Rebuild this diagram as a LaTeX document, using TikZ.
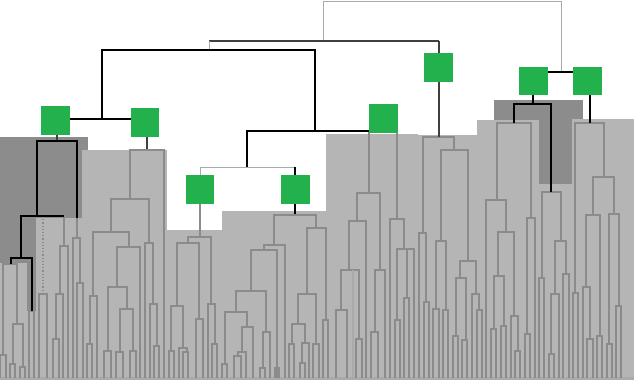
\documentclass[tikz,border=0pt]{standalone}
\usepackage{tikz}
\definecolor{grn}{HTML}{22B14C}
\definecolor{lgray}{HTML}{B5B5B5}
\definecolor{dgray}{HTML}{8C8C8C}
\definecolor{tgray}{HTML}{8B8B8B}
\definecolor{rgray}{HTML}{AAAAAA}
\newcommand\dU[5]{\draw[tl] (#1,#4) |- (#2,#3) -- (#2,#5);}
\tikzset{
  tl/.style={draw=tgray,line width=1.2pt},
  bl/.style={draw=black,line width=1.2pt},
  dl/.style={draw=black!75,line width=1.2pt},
  rl/.style={draw=rgray,line width=1pt},
  sq/.style={fill=grn,draw=none,minimum size=28.5pt,inner sep=0pt}
}
\begin{document}
\begin{tikzpicture}[x=1pt,y=-1pt]
\useasboundingbox (0,0) rectangle (634,380);
% dark regions
\fill[dgray] (0,137) rectangle (88,263);
\fill[dgray] (27,263) rectangle (36,311);
\fill[dgray] (494,100) rectangle (583,184);
% light regions
\fill[lgray] (0,263) rectangle (27,380);
\fill[lgray] (27,311) rectangle (36,380);
\fill[lgray] (36,218) rectangle (82,380);
\fill[lgray] (82,150) rectangle (167,380);
\fill[lgray] (167,230) rectangle (222,380);
\fill[lgray] (222,211) rectangle (326,380);
\fill[lgray] (326,134) rectangle (418,380);
\fill[lgray] (418,135) rectangle (477,380);
\fill[lgray] (477,120) rectangle (539,380);
\fill[lgray] (539,184) rectangle (572,380);
\fill[lgray] (572,119) rectangle (634,380);
\fill[rgray] (0,377) rectangle (634,380);
% ---------- left dark subtree (gray parts)
\draw[tl] (64,216) -- (64,246);
\dU{60}{68}{246}{294}{378}
\dU{56}{63}{294}{339}{378}
\dU{53}{59}{339}{378}{378}
\draw[tl] (77,218) -- (77,238);
\dU{73}{80}{238}{378}{283}
\dU{77}{83}{283}{378}{378}
\draw[tl,dotted] (43,216) -- (43,294);
\dU{39}{47}{294}{378}{378}
\dU{3}{17}{264}{355}{324}
\dU{0}{6}{355}{378}{378}
\dU{13}{23}{324}{364}{367}
\dU{10}{15}{364}{378}{378}
\dU{20}{25}{367}{378}{378}
\dU{29}{34}{311}{378}{378}
% ---------- green 2 subtree
\draw[dl] (147,137) -- (147,150);
\dU{130}{164}{150}{199}{378}
\dU{111}{149}{199}{232}{243}
\dU{93}{129}{232}{296}{247}
\dU{117}{140}{247}{287}{378}
\dU{108}{127}{287}{351}{309}
\dU{120}{133}{309}{352}{351}
\dU{104}{111}{351}{378}{378}
\dU{116}{123}{352}{378}{378}
\dU{130}{136}{351}{378}{378}
\dU{90}{97}{296}{344}{378}
\dU{87}{92}{344}{378}{378}
\dU{145}{153}{243}{378}{304}
\dU{150}{157}{304}{378}{346}
\dU{154}{159}{346}{378}{378}
% ---------- green 5 subtree
\draw[tl] (200,204) -- (200,237);
\dU{188}{211}{237}{243}{304}
\dU{177}{199}{243}{306}{319}
\dU{171}{183}{306}{351}{348}
\dU{169}{174}{351}{378}{378}
\dU{179}{187}{348}{378}{352}
\dU{183}{188}{352}{378}{378}
\dU{196}{203}{319}{378}{378}
\dU{208}{215}{304}{378}{344}
\dU{212}{217}{344}{378}{378}
% ---------- green 6 subtree
\draw[bl] (295,204) -- (295,215);
\dU{274}{316}{215}{245}{228}
\dU{264}{285}{245}{250}{378}
\dU{251}{277}{250}{291}{378}
\dU{236}{266}{291}{312}{332}
\dU{225}{247}{312}{364}{327}
\dU{222}{227}{364}{378}{378}
\dU{242}{253}{327}{352}{378}
\dU{238}{246}{352}{356}{378}
\dU{234}{241}{356}{378}{378}
\dU{263}{270}{332}{368}{378}
\dU{260}{265}{368}{378}{378}
\dU{275}{279}{368}{378}{378}
\dU{307}{326}{228}{294}{320}
\dU{298}{316}{294}{324}{344}
\dU{292}{305}{324}{344}{343}
\dU{289}{294}{344}{378}{378}
\dU{302}{309}{343}{363}{378}
\dU{300}{305}{363}{378}{378}
\dU{313}{319}{344}{378}{378}
\dU{323}{328}{320}{378}{378}
% ---------- green 4 subtree
\dU{369}{397}{131}{193}{219}
\dU{357}{380}{193}{221}{270}
\dU{349}{366}{221}{270}{378}
\dU{341}{359}{270}{310}{339}
\dU{336}{347}{310}{378}{378}
\dU{356}{362}{339}{378}{378}
\draw[tl,draw=rgray] (353,270) -- (353,378);
\dU{375}{385}{270}{332}{378}
\dU{371}{378}{332}{378}{378}
\dU{390}{404}{219}{378}{249}
\dU{397}{414}{249}{320}{378}
\dU{395}{400}{320}{378}{378}
\draw[tl] (407,249) -- (407,298);
\dU{404}{409}{298}{378}{378}
% ---------- green 3 subtree
\dU{423}{454}{137}{233}{150}
\dU{441}{468}{150}{241}{261}
\dU{419}{426}{233}{378}{302}
\dU{424}{429}{302}{378}{378}
\dU{436}{446}{241}{309}{310}
\dU{433}{439}{309}{378}{378}
\dU{443}{448}{310}{378}{378}
\dU{460}{476}{261}{278}{294}
\dU{456}{466}{278}{336}{340}
\dU{453}{458}{336}{378}{378}
\dU{462}{467}{340}{378}{378}
\dU{472}{479}{294}{378}{310}
\dU{477}{482}{310}{378}{378}
% ---------- green 7 subtree
\dU{497}{531}{123}{200}{218}
\dU{486}{506}{200}{378}{232}
\dU{498}{514}{232}{276}{316}
\dU{494}{504}{276}{329}{326}
\dU{491}{496}{329}{378}{378}
\dU{501}{506}{326}{378}{378}
\dU{511}{518}{316}{378}{351}
\dU{515}{520}{351}{378}{378}
\dU{527}{535}{218}{334}{378}
\dU{525}{530}{334}{378}{378}
\dU{542}{561}{192}{278}{241}
\dU{539}{544}{278}{378}{378}
\dU{555}{566}{241}{294}{274}
\dU{551}{559}{294}{354}{378}
\dU{549}{554}{354}{378}{378}
\dU{563}{569}{274}{378}{378}
% ---------- green 8 subtree
\dU{575}{604}{123}{293}{177}
\dU{573}{578}{293}{378}{378}
\dU{593}{614}{177}{215}{214}
\dU{586}{600}{215}{287}{336}
\dU{583}{590}{287}{378}{339}
\dU{587}{593}{339}{378}{378}
\dU{597}{602}{336}{378}{378}
\dU{609}{619}{214}{344}{306}
\dU{607}{612}{344}{378}{378}
\dU{616}{621}{306}{378}{378}
% ---------- black / top structure
\draw[dl] (57,135) -- (57,141);
\draw[bl] (37,216) -- (37,141) -- (77,141) -- (77,218);
\draw[bl] (21,258) -- (21,216) -- (64,216);
\draw[bl] (11,264) -- (11,258) -- (32,258) -- (32,311);
\draw[bl] (533,95) -- (533,104);
\draw[bl] (514,123) -- (514,104) -- (551,104) -- (551,192);
\draw[bl] (590,95) -- (590,123);
\draw[rl] (323,41) -- (323,1) -- (561,1) -- (561,72);
\draw[dl] (209,41) -- (439,41);
\draw[rl] (209,41) -- (209,50);
\draw[dl] (439,41) -- (439,137);
\draw[bl] (102,119) -- (102,50) -- (315,50) -- (315,131);
\draw[bl] (56,119) -- (145,119);
\draw[bl] (247,167) -- (247,131) -- (383,131);
\draw[rl] (200,175) -- (200,167) -- (295,167);
\draw[bl] (295,167) -- (295,175);
\draw[bl] (533,72) -- (587,72);
% ---------- green squares
\node[sq] (g1) at (55.5,120.5) {};
\node[sq] (g2) at (145,122.5) {};
\node[sq] (g3) at (438.5,67.5) {};
\node[sq] (g4) at (383.5,118.5) {};
\node[sq] (g5) at (200,189.5) {};
\node[sq] (g6) at (295.5,189.5) {};
\node[sq] (g7) at (533.5,81) {};
\node[sq] (g8) at (587.5,81) {};
\end{tikzpicture}
\end{document}
